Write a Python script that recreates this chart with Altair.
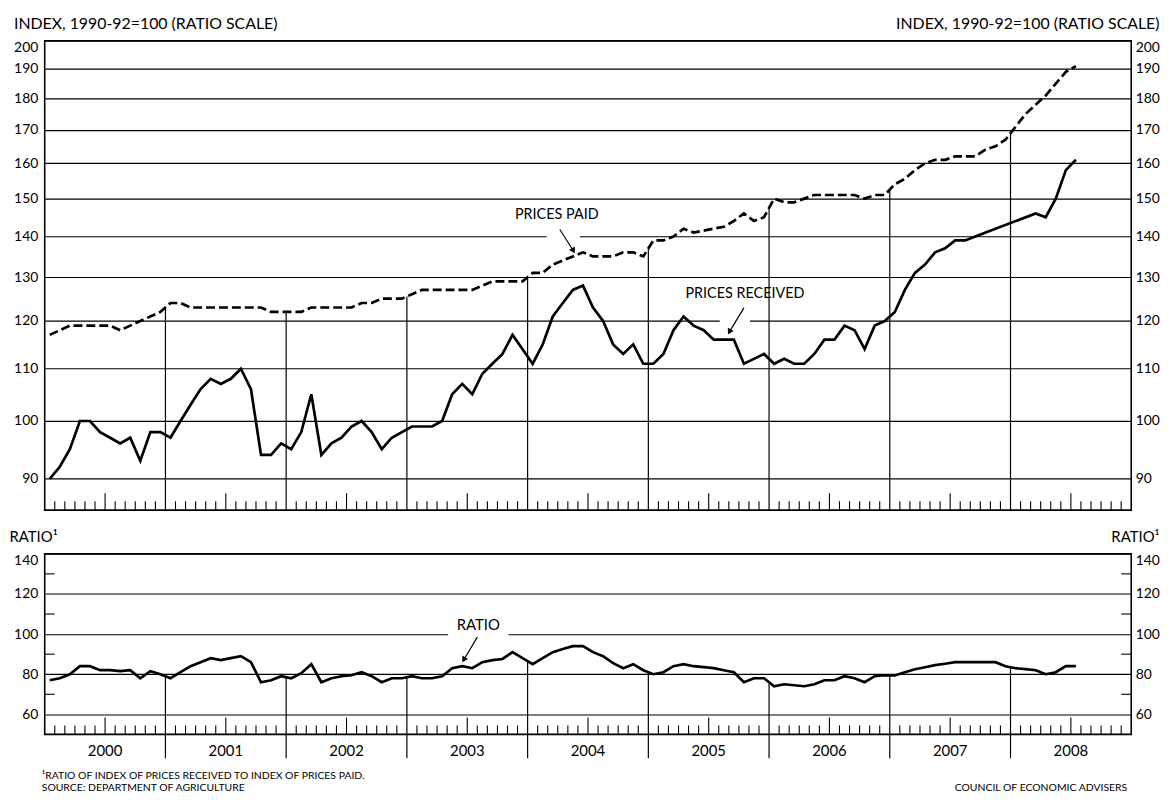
import altair as alt
import pandas as pd

# ---------------- data (monthly, Jan 2000 - Jul 2008) ----------------
received = [
    90, 92, 95, 100, 100, 98, 97, 96, 97, 93, 98, 98,             # 2000
    97, 100, 103, 106, 108, 107, 108, 110, 106, 94, 94, 96,       # 2001
    95, 98, 105, 94, 96, 97, 99, 100, 98, 95, 97, 98,             # 2002
    99, 99, 99, 100, 105, 107, 105, 109, 111, 113, 117, 114,      # 2003
    111, 115, 121, 124, 127, 128, 123, 120, 115, 113, 115, 111,   # 2004
    111, 113, 118, 121, 119, 118, 116, 116, 116, 111, 112, 113,   # 2005
    111, 112, 111, 111, 113, 116, 116, 119, 118, 114, 119, 120,   # 2006
    122, 127, 131, 133, 136, 137, 139, 139, 140, None, None, None,  # 2007
    None, None, 146, 145, 150, 158, 161,                          # 2008
]
paid = [
    117, 118, 119, 119, 119, 119, 119, 118, 119, 120, 121, 122,
    124, 124, 123, 123, 123, 123, 123, 123, 123, 123, 122, 122,
    122, 122, 123, 123, 123, 123, 123, 124, 124, 125, 125, 125,
    126, 127, 127, 127, 127, 127, 127, 128, 129, 129, 129, 129,
    131, 131, 133, 134, 135, 136, 135, 135, 135, 136, 136, 135,
    139, 139, 140, 142, 141, 141.5, 142, 142.5, 144, 146, 144, 145,
    150, 149, 149, 150, 151, 151, 151, 151, 151, 150, 151, 151,
    154, 155.5, 158, 160, 161, 161, 162, 162, 162, 164, 165, 167,
    171, 175, 178, 181, 185, 189, 191,
]
ratio = [
    77, 78, 80, 84, 84, 82, 82, 81.5, 82, 78, 81.5, 80,
    78, 81, 84, 86, 88, 87, 88, 89, 86, 76, 77, 79,
    78, 80.5, 85, 76, 78, 79, 79.5, 81, 79, 76, 78, 78,
    79, 78, 78, 79, 83, 84, 83, 86, 87, 87.6, 91, 88,
    85, 88, 91, 92.6, 94, 94, 91, 89, 85.5, 83, 85, 82,
    80, 81, 84, 85, 84, 83.5, 83, 82, 81, 76, 78, 78,
    74, 75, 74.5, 74, 75, 77, 77, 79, 78, 76, 79, 79.5,
    79.4, 81, 82.5, 83.5, 84.5, 85.2, 86, 86, 86, 86, 86, 84,
    83, 82.5, 82, 80, 81, 84, 84,
]
years = list(range(2000, 2009))
upper_ticks = [90, 100, 110, 120, 130, 140, 150, 160, 170, 180, 190, 200]
lower_ticks = [60, 80, 100, 120, 140]
lower_minor = [70, 90, 110, 130]

index_title = "INDEX, 1990-92=100 (RATIO SCALE)"
ratio_title = "RATIO\u00b9"
footnote = "\u00b9RATIO OF INDEX OF PRICES RECEIVED TO INDEX OF PRICES PAID."
source = "SOURCE: DEPARTMENT OF AGRICULTURE"
credit = "COUNCIL OF ECONOMIC ADVISERS"

# ---------------- tables ----------------
n = len(paid)
months = pd.date_range("2000-01-01", periods=n, freq="MS")
t_mid = [(d.year - 2000) * 12 + (d.month - 1) + 0.5 for d in months]
df = pd.DataFrame({"month": months.strftime("%Y-%m"), "t": t_mid,
                   "received": received, "paid": paid, "ratio": ratio})
df_rec = df.dropna(subset=["received"])

n_axis_months = 12 * len(years)
short_ticks = pd.DataFrame({"t": [k for k in range(1, n_axis_months) if k % 12 not in (0, 6)]})
tall_ticks = pd.DataFrame({"t": [k for k in range(1, n_axis_months) if k % 12 == 6]})
bounds_t = [12 * k for k in range(1, len(years))]
div_up = pd.DataFrame({"t": bounds_t, "top": [(paid[b - 1] + paid[b]) / 2 for b in bounds_t]})
div_lo = pd.DataFrame({"t": bounds_t, "top": [(ratio[b - 1] + ratio[b]) / 2 for b in bounds_t]})
minor_df = pd.DataFrame({"v": lower_minor})
year_df = pd.DataFrame({"year": [str(y) for y in years], "t": [12 * (y - 2000) + 6 for y in years]})

notes_up = pd.DataFrame({"label": ["PRICES PAID", "PRICES RECEIVED"], "t": [50.9, 69.6], "v": [145.7, 126.0]})
arrows_up = pd.DataFrame({"t": [51.2, 69.5], "v": [141.8, 122.9], "t2": [52.5, 68.1],
                          "v2": [136.6, 117.8], "angle": [149, 209]})
gaps_up = pd.DataFrame({"t": [49.9, 67.1], "t2": [53.2, 70.1], "v": [140, 120]})

notes_lo = pd.DataFrame({"label": ["RATIO"], "t": [43.1], "v": [104.4]})
arrows_lo = pd.DataFrame({"t": [43.0], "v": [98.5], "t2": [41.7], "v2": [87.6], "angle": [211]})
gaps_lo = pd.DataFrame({"t": [40.1], "t2": [46.1], "v": [100]})

# ---------------- layout ----------------
W = 1095
H_UP = 473
H_LO = 182
FONT = "Lato"

xs = alt.Scale(domain=[0, n_axis_months], nice=False, zero=False)
ys_up = alt.Scale(type="log", domain=[85, 200], nice=False)
ys_lo = alt.Scale(domain=[50, 140], nice=False, zero=False)

X0 = alt.X("t:Q", scale=xs, axis=None)


def yaxis(orient, title, values, grid, tx, tsize):
    return alt.Axis(orient=orient, values=values, grid=grid, ticks=False, domain=False,
                    labelFlush=True, labelOverlap=False, labelPadding=7 if orient == "left" else 4,
                    format="d", title=title, titleAngle=0,
                    titleAlign="left" if orient == "left" else "right",
                    titleBaseline="middle", titleX=tx, titleY=-17, titleFontSize=tsize)


# ---- upper panel ----
paid_line = alt.Chart(df).mark_line(color="black", strokeWidth=2.7, strokeDash=[9, 4]).encode(
    x=X0, y=alt.Y("paid:Q", scale=ys_up, axis=yaxis("left", index_title, upper_ticks, True, -31.5, 16)))
rec_line = alt.Chart(df_rec).mark_line(color="black", strokeWidth=2.7).encode(
    x=X0, y=alt.Y("received:Q", scale=ys_up, axis=yaxis("right", index_title, upper_ticks, False, 28, 16)))
gap_up = alt.Chart(gaps_up).mark_rule(color="white", strokeWidth=4).encode(
    x=X0, x2="t2:Q", y=alt.Y("v:Q", scale=ys_up, axis=None))
divs_up = alt.Chart(div_up).mark_rule(color="black", strokeWidth=1.2).encode(
    x=X0, y=alt.Y("top:Q", scale=ys_up, axis=None), y2=alt.value(H_UP))
st_up = alt.Chart(short_ticks).mark_rule(color="black", strokeWidth=1.1).encode(
    x=X0, y=alt.value(H_UP), y2=alt.value(H_UP - 9))
tt_up = alt.Chart(tall_ticks).mark_rule(color="black", strokeWidth=1.1).encode(
    x=X0, y=alt.value(H_UP), y2=alt.value(H_UP - 17))
arr_up = alt.Chart(arrows_up).mark_rule(color="black", strokeWidth=1.2).encode(
    x=X0, x2="t2:Q", y=alt.Y("v:Q", scale=ys_up, axis=None), y2="v2:Q")
head_up = alt.Chart(arrows_up).mark_point(shape="triangle", filled=True, size=45, color="black", opacity=1).encode(
    x=alt.X("t2:Q", scale=xs, axis=None), y=alt.Y("v2:Q", scale=ys_up, axis=None),
    angle=alt.Angle("angle:Q", scale=None))
txt_up = alt.Chart(notes_up).mark_text(font=FONT, fontSize=14.5, color="black").encode(
    x=X0, y=alt.Y("v:Q", scale=ys_up, axis=None), text="label:N")

upper = alt.layer(paid_line, rec_line, gap_up, divs_up, st_up, tt_up, arr_up, head_up, txt_up).resolve_axis(
    y="independent").properties(width=W, height=H_UP)

# ---- lower panel ----
ratio_line = alt.Chart(df).mark_line(color="black", strokeWidth=2.7).encode(
    x=X0, y=alt.Y("ratio:Q", scale=ys_lo, axis=yaxis("left", ratio_title, lower_ticks, True, -36, 15)))
minor_l = alt.Chart(minor_df).mark_rule(color="black", strokeWidth=1.1).encode(
    y=alt.Y("v:Q", scale=ys_lo, axis=None), x=alt.value(0), x2=alt.value(10))
minor_r = alt.Chart(minor_df).mark_rule(color="black", strokeWidth=1.1).encode(
    y=alt.Y("v:Q", scale=ys_lo, axis=yaxis("right", ratio_title, lower_ticks, False, 28, 15)),
    x=alt.value(W - 10), x2=alt.value(W))
gap_lo = alt.Chart(gaps_lo).mark_rule(color="white", strokeWidth=4).encode(
    x=X0, x2="t2:Q", y=alt.Y("v:Q", scale=ys_lo, axis=None))
divs_lo = alt.Chart(div_lo).mark_rule(color="black", strokeWidth=1.2).encode(
    x=X0, y=alt.Y("top:Q", scale=ys_lo, axis=None), y2=alt.value(H_LO + 24))
st_lo = alt.Chart(short_ticks).mark_rule(color="black", strokeWidth=1.1).encode(
    x=X0, y=alt.value(H_LO), y2=alt.value(H_LO - 9))
tt_lo = alt.Chart(tall_ticks).mark_rule(color="black", strokeWidth=1.1).encode(
    x=X0, y=alt.value(H_LO), y2=alt.value(H_LO - 17))
arr_lo = alt.Chart(arrows_lo).mark_rule(color="black", strokeWidth=1.2).encode(
    x=X0, x2="t2:Q", y=alt.Y("v:Q", scale=ys_lo, axis=None), y2="v2:Q")
head_lo = alt.Chart(arrows_lo).mark_point(shape="triangle", filled=True, size=45, color="black", opacity=1).encode(
    x=alt.X("t2:Q", scale=xs, axis=None), y=alt.Y("v2:Q", scale=ys_lo, axis=None),
    angle=alt.Angle("angle:Q", scale=None))
txt_lo = alt.Chart(notes_lo).mark_text(font=FONT, fontSize=15, color="black").encode(
    x=X0, y=alt.Y("v:Q", scale=ys_lo, axis=None), text="label:N")
year_txt = alt.Chart(year_df).mark_text(font=FONT, fontSize=15, color="black", baseline="middle").encode(
    x=X0, y=alt.value(H_LO + 17), text="year:N")
foot1 = alt.Chart(pd.DataFrame({"s": [footnote]})).mark_text(
    font=FONT, fontSize=10.5, align="left", baseline="middle", color="black").encode(
    x=alt.value(-3), y=alt.value(H_LO + 41.5), text="s:N")
foot2 = alt.Chart(pd.DataFrame({"s": [source]})).mark_text(
    font=FONT, fontSize=10.5, align="left", baseline="middle", color="black").encode(
    x=alt.value(-3), y=alt.value(H_LO + 54.5), text="s:N")
foot3 = alt.Chart(pd.DataFrame({"s": [credit]})).mark_text(
    font=FONT, fontSize=10.5, align="right", baseline="middle", color="black").encode(
    x=alt.value(W - 4), y=alt.value(H_LO + 54.5), text="s:N")

lower = alt.layer(ratio_line, minor_r, minor_l, gap_lo, divs_lo, st_lo, tt_lo, arr_lo, head_lo, txt_lo,
                  year_txt, foot1, foot2, foot3).resolve_axis(y="independent").properties(width=W, height=H_LO)

chart = alt.vconcat(upper, lower, spacing=44, bounds="flush").properties(
    padding={"left": 0, "top": 4, "right": 0, "bottom": 0}
).configure_view(stroke="black", strokeWidth=1.6).configure_axis(
    labelFont=FONT, titleFont=FONT, labelFontSize=14, titleFontSize=15, titleFontWeight="normal",
    labelColor="black", titleColor="black", gridColor="black", gridWidth=1.1, gridOpacity=1
)

chart.save("out.html", embed_options={"renderer": "svg", "actions": False})
